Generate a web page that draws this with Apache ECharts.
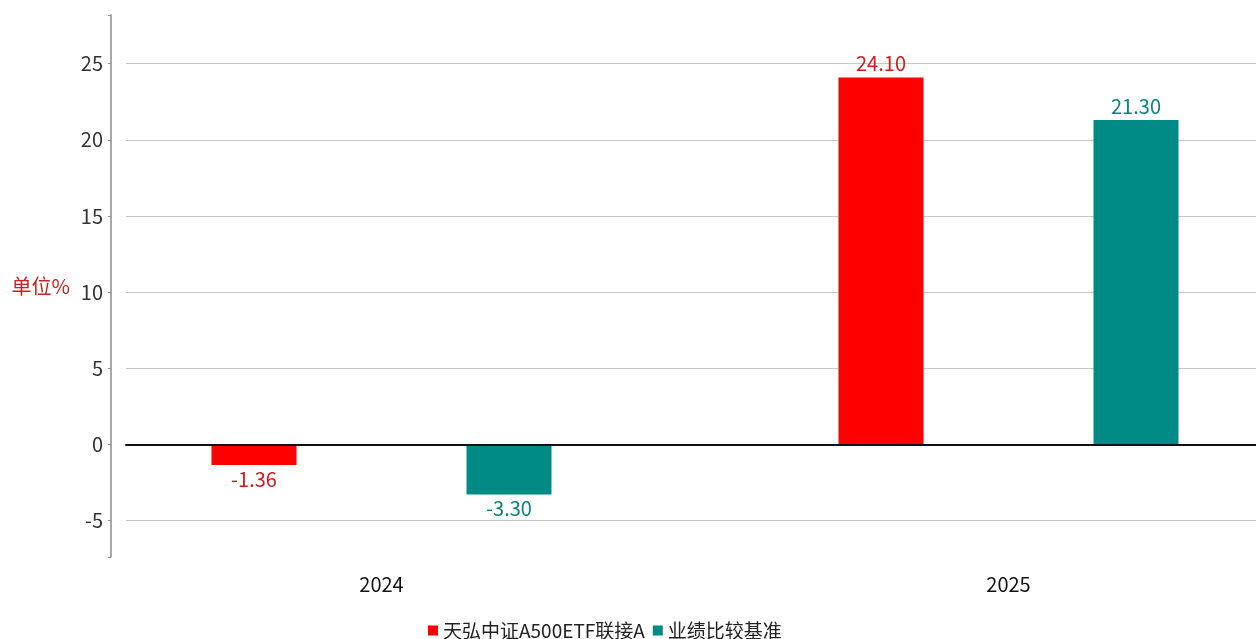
<!DOCTYPE html>
<html><head><meta charset="utf-8">
<script src="https://cdn.jsdelivr.net/npm/echarts@6/dist/echarts.min.js"></script>
<style>html,body{margin:0;padding:0;background:#fff}#c{width:1256px;height:639px}</style>
</head><body><div id="c"></div>
<script>
const categories = ['2024', '2025'];
const seriesNames = ['天弘中证A500ETF联接A', '业绩比较基准'];
const fundValues = [-1.36, 24.10];
const benchValues = [-3.30, 21.30];
const yTickLabels = [-5, 0, 5, 10, 15, 20, 25];
const yMin = -7.4, yMax = 28.2;

const FONT = '"Noto Sans CJK SC", "Noto Sans", sans-serif';
const RED = '#ff0000', TEAL = '#008b87';
const RED_TXT = '#d41a1a', TEAL_TXT = '#0a8480';

function mk(vals) {
  return vals.map(v => ({
    value: v,
    label: { position: v < 0 ? 'bottom' : 'top' }
  }));
}

const chart = echarts.init(document.getElementById('c'), null, { renderer: 'canvas' });
chart.setOption({
  animation: false,
  backgroundColor: '#fff',
  textStyle: { fontFamily: FONT },
  legend: {
    data: seriesNames,
    left: 423, top: 616,
    icon: 'rect', itemWidth: 10, itemHeight: 10, itemGap: 8,
    textStyle: { fontSize: 19, color: '#222', fontFamily: FONT }
  },
  grid: [
    { left: 126, right: -66, top: 15, bottom: 82, outerBoundsMode: 'none' },
    { left: 68, right: -66, top: 15, bottom: 82, outerBoundsMode: 'none' }
  ],
  xAxis: [
    {
      gridIndex: 0, type: 'category', data: categories, z: 5,
      axisLine: { show: true, onZero: true, lineStyle: { color: '#111', width: 2 } },
      axisTick: { show: false }, axisLabel: { show: false }, splitLine: { show: false }
    },
    {
      gridIndex: 1, type: 'category', data: categories,
      axisLine: { show: false }, axisTick: { show: false },
      axisLabel: { show: true, fontSize: 20, color: '#111', margin: 17, fontFamily: FONT },
      splitLine: { show: false }
    }
  ],
  yAxis: [
    {
      gridIndex: 0, type: 'value', min: yMin, max: yMax, splitNumber: 7, offset: 15,
      name: '单位%', nameLocation: 'middle', nameRotate: 0, nameGap: 41,
      nameTextStyle: { color: '#cc1f1f', fontSize: 20, fontFamily: FONT },
      axisLine: { show: true, lineStyle: { color: '#8c8c8c', width: 1.5 } },
      axisTick: { show: true, length: 3, lineStyle: { color: '#8c8c8c' } },
      axisLabel: {
        fontSize: 20, color: '#333', margin: 8, fontFamily: FONT,
        formatter: v => (yTickLabels.indexOf(Math.round(v * 100) / 100) >= 0 ? String(Math.round(v)) : '')
      },
      splitLine: { show: true, showMinLine: false, showMaxLine: false, lineStyle: { color: '#c8c8c8', width: 1.2 } }
    },
    {
      gridIndex: 1, type: 'value', min: yMin, max: yMax, splitNumber: 7, show: false,
      splitLine: { show: false }
    }
  ],
  series: [
    {
      name: seriesNames[0], type: 'bar', xAxisIndex: 1, yAxisIndex: 1,
      data: mk(fundValues), barWidth: 85, barGap: '200%',
      itemStyle: { color: RED },
      label: { show: true, fontSize: 20, color: RED_TXT, distance: 4, fontFamily: FONT,
        formatter: p => p.value.toFixed(2) }
    },
    {
      name: seriesNames[1], type: 'bar', xAxisIndex: 1, yAxisIndex: 1,
      data: mk(benchValues), barWidth: 85, barGap: '200%',
      itemStyle: { color: TEAL },
      label: { show: true, fontSize: 20, color: TEAL_TXT, distance: 4, fontFamily: FONT,
        formatter: p => p.value.toFixed(2) }
    }
  ]
});
</script></body></html>
